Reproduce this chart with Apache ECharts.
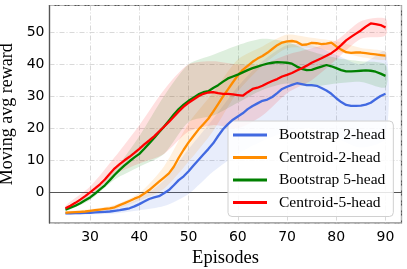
<!DOCTYPE html>
<html>
<head>
<meta charset="utf-8">
<script src="https://cdn.jsdelivr.net/npm/echarts@6/dist/echarts.min.js"></script>
<style>html,body{margin:0;padding:0;background:#fff}#c{width:407px;height:269px}</style>
</head>
<body>
<div id="c"></div>
<script>
// Episodes for the mean curves
const episodes = [25,26,27,28,29,30,31,32,33,34,35,36,37,38,39,40,41,42,43,44,45,46,47,48,49,50,51,52,53,54,55,56,57,58,59,60,61,62,63,64,65,66,67,68,69,70,71,72,73,74,75,76,77,78,79,80,81,82,83,84,85,86,87,88,89,90];

const bootstrap2 = [-6.6,-6.6,-6.5,-6.5,-6.4,-6.4,-6.3,-6.2,-6.1,-6.0,-5.8,-5.6,-5.3,-5.0,-4.4,-3.7,-2.9,-2.1,-1.6,-1.2,-0.3,0.7,2.2,3.8,5.0,6.6,8.4,10.1,11.8,13.5,15.3,17.6,19.7,21.3,22.7,23.7,24.7,26.0,27.0,27.8,28.6,29.0,29.8,31.0,32.3,33.0,33.6,34.1,33.8,33.5,33.5,33.3,32.6,31.8,30.8,29.4,28.2,27.3,27.0,27.0,27.1,27.4,28.0,29.1,30.1,30.8];
const centroid2 = [-6.4,-6.3,-6.2,-6.1,-6.0,-5.8,-5.6,-5.4,-5.2,-5.0,-4.7,-4.0,-3.4,-2.7,-2.0,-1.4,-0.4,0.7,2.0,3.3,4.6,5.9,8.0,10.8,13.3,15.6,17.6,19.6,21.3,23.0,25.2,27.6,30.0,32.2,34.4,36.5,38.3,39.5,40.8,41.8,42.6,43.6,44.8,46.0,46.8,47.2,47.3,47.0,46.1,46.2,46.7,46.6,46.3,46.5,46.8,45.6,44.6,43.8,43.6,43.7,43.7,43.5,43.3,43.1,42.9,42.7];
const bootstrap5 = [-5.4,-4.8,-4.2,-3.4,-2.5,-1.6,-0.4,0.9,2.2,3.8,5.5,7.0,8.4,9.7,10.9,12.0,13.6,15.3,17.0,18.8,20.5,22.4,24.3,26.0,27.4,28.6,29.6,30.6,31.3,31.6,32.6,33.5,34.6,35.6,36.2,36.8,37.5,38.2,38.8,39.3,39.8,40.2,40.5,40.7,40.6,40.5,40.2,39.3,38.6,38.2,38.3,38.8,39.3,39.8,39.4,38.8,38.2,37.8,37.8,37.9,38.0,38.1,38.0,37.7,37.1,36.4];
const centroid5 = [-5.0,-4.2,-3.3,-2.3,-1.2,0.0,1.2,2.5,4.0,5.8,7.5,8.8,10.0,11.1,12.3,13.6,15.0,16.2,17.5,19.0,20.5,22.0,23.6,25.3,26.8,28.0,29.0,30.0,30.8,31.2,31.3,31.0,30.8,30.8,30.6,30.4,30.2,31.3,32.3,32.7,33.3,34.1,34.8,35.4,36.2,36.7,37.3,38.1,38.8,39.6,40.5,41.2,41.9,42.7,43.5,44.6,46.0,47.5,48.6,49.6,50.6,51.8,52.8,52.6,52.3,51.5];

// Shaded spread bands (read every 5 episodes)
const bandEpisodes = [25,30,35,40,45,50,55,60,65,70,75,80,85,90];
const bootstrap2Low = [-7.0,-6.9,-6.6,-5.6,-4.3,-0.5,6.5,12,16,19,20,17,14,17];
const bootstrap2High = [-6.2,-5.9,-5.0,-1.8,3.7,13.5,23,33,41,46,46,43,40,44];
const centroid2Low = [-6.8,-6.3,-5.4,-2.6,1.1,9.6,19.2,31.5,39.6,45.0,45.1,44.0,42.3,41.4];
const centroid2High = [-6.0,-5.3,-3.9,-0.2,8.1,21.6,31.2,41.5,45.6,49.3,48.3,47.2,45.1,44.0];
const bootstrap5Low = [-5.9,-2.4,4.0,8,12,22,24,28,32,34,33,34,34.5,32.8];
const bootstrap5High = [-4.9,-0.8,7.0,17.5,30,40,43,46,48,47,44,42,41,40];
const centroid5Low = [-5.6,-1.2,5.5,9,12,19,21,20,24,31,35,41.5,48,49];
const centroid5High = [-4.2,1.8,11,21,32,40,41,40,40,43,45,47.5,53.5,54.3];

const names = ['Bootstrap 2-head','Centroid-2-head','Bootstrap 5-head','Centroid-5-head'];
const colors = ['#4169e1','#ff8c00','#008000','#ff0000'];
const means = [bootstrap2, centroid2, bootstrap5, centroid5];
const lows = [bootstrap2Low, centroid2Low, bootstrap5Low, centroid5Low];
const highs = [bootstrap2High, centroid2High, bootstrap5High, centroid5High];
const fills = ['rgba(65,105,225,0.12)','rgba(255,140,0,0.13)','rgba(0,128,0,0.13)','rgba(255,0,0,0.12)'];

const series = [];
for (let i = 0; i < 4; i++) {
  const lo = lows[i], hi = highs[i];
  series.push({
    type: 'custom', name: 'band' + i, silent: true, z: 1, clip: true,
    data: bandEpisodes.map((e, k) => [e, lo[k], hi[k]]),
    encode: {x: 0, y: [1, 2]},
    renderItem: function (params, api) {
      if (params.dataIndex !== 0) return null;
      const pts = [];
      for (let k = 0; k < bandEpisodes.length; k++) pts.push(api.coord([bandEpisodes[k], hi[k]]));
      for (let k = bandEpisodes.length - 1; k >= 0; k--) pts.push(api.coord([bandEpisodes[k], lo[k]]));
      return {type: 'polygon', shape: {points: pts, smooth: 0.25}, style: {fill: fills[i], stroke: null}};
    }
  });
}
for (let i = 0; i < 4; i++) {
  series.push({
    type: 'line', name: names[i],
    data: episodes.map((e, k) => [e, means[i][k]]),
    symbol: 'none', color: colors[i],
    lineStyle: {width: 2.3, color: colors[i]}, z: 5 + i
  });
}

const gridLine = {show: true, lineStyle: {color: '#cfcfcf', width: 0.8, type: [5, 2, 1, 2]}};
const chart = echarts.init(document.getElementById('c'), null, {renderer: 'canvas'});
chart.setOption({
  animation: false,
  backgroundColor: '#fff',
  grid: {left: 49.5, right: 5.5, top: 5.5, bottom: 46, show: true, borderColor: '#555', borderWidth: 1.2,
    containLabel: false, outerBoundsMode: 'none'},
  xAxis: {
    type: 'value', min: 21.75, max: 93.25, splitNumber: 7,
    name: 'Episodes', nameLocation: 'middle', nameGap: 22,
    nameTextStyle: {fontFamily: 'Liberation Serif', fontSize: 18.5, color: '#000'},
    axisLine: {show: true, lineStyle: {color: '#555', width: 1.2}},
    axisTick: {show: false},
    axisLabel: {showMinLabel: false, showMaxLabel: false, margin: 7, fontFamily: 'DejaVu Sans', fontSize: 14, color: '#000',
      formatter: v => (Math.abs(v - Math.round(v)) < 1e-6 ? String(Math.round(v)) : '')},
    splitLine: gridLine
  },
  yAxis: {
    type: 'value', min: -9.6, max: 58.4, splitNumber: 7,
    name: 'Moving avg reward', nameLocation: 'middle', nameGap: 28,
    nameTextStyle: {fontFamily: 'Liberation Serif', fontSize: 18, color: '#000'},
    axisLine: {show: true, lineStyle: {color: '#555', width: 1.2}},
    axisTick: {show: false},
    axisLabel: {showMinLabel: false, showMaxLabel: false, margin: 5, fontFamily: 'DejaVu Sans', fontSize: 14, color: '#000',
      formatter: v => (Math.abs(v - Math.round(v)) < 1e-6 ? String(Math.round(v)) : '')},
    splitLine: gridLine
  },
  legend: {
    data: names, orient: 'vertical', left: 228, top: 121,
    padding: [6, 8, 6, 5], itemGap: 6.5, itemWidth: 34, itemHeight: 3, icon: 'rect',
    borderColor: '#d0d0d0', borderWidth: 1, borderRadius: 4, backgroundColor: 'rgba(255,255,255,0.85)',
    textStyle: {fontFamily: 'Liberation Serif', fontSize: 15.5, color: '#000', lineHeight: 15, padding: [0, 0, 0, 7]}
  },
  series: series
});
</script>
</body>
</html>
